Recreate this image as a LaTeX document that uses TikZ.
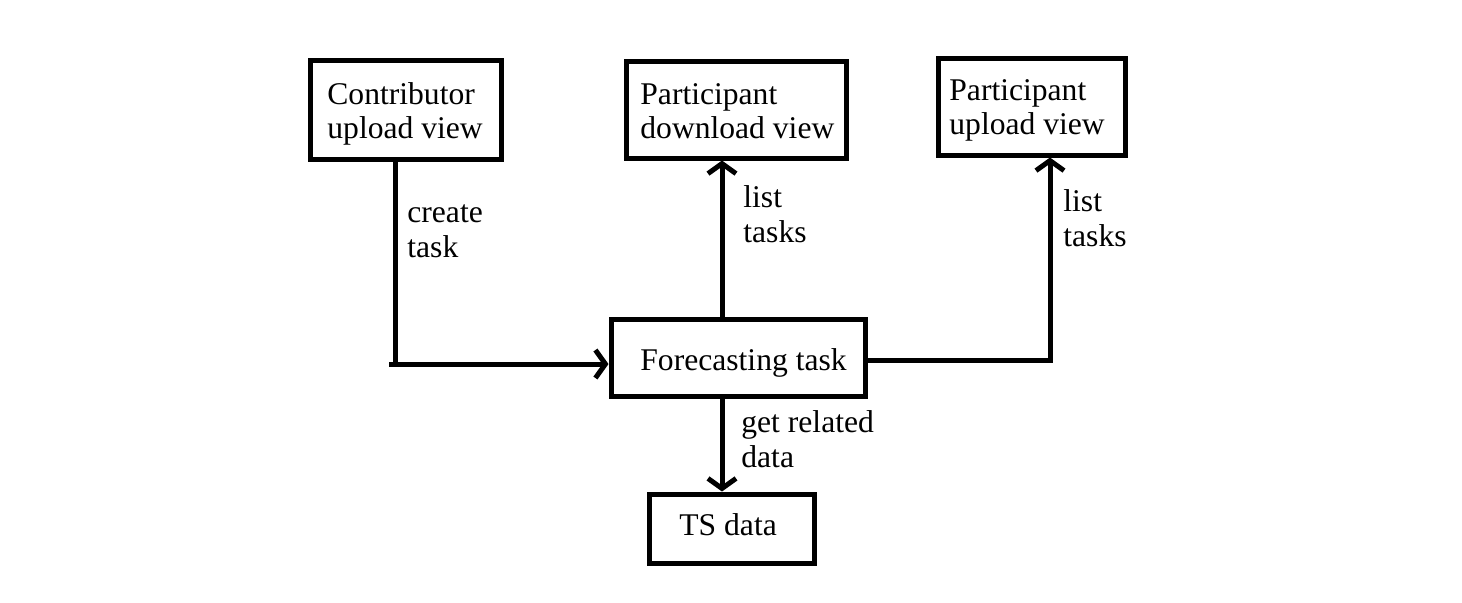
\documentclass[tikz,border=0pt]{standalone}
\usepackage{fontspec}
\setmainfont{Liberation Serif}
\usetikzlibrary{arrows.meta}
\begin{document}
\begin{tikzpicture}[x=0.5pt,y=-0.5pt,
  box/.style={draw,line width=2.5pt,inner sep=0pt},
  txt/.style={anchor=base west,inner sep=0pt,font=\fontsize{15.8}{17.5}\selectfont},
  conn/.style={line width=2.5pt},
  arr/.style={conn,-{Straight Barb[length=5pt,width=14pt,line width=2.5pt]}}]
\useasboundingbox (0,0) rectangle (1462,602);
% boxes
\node[box,minimum width=95.5pt,minimum height=49.5pt] (contrib) at (405.5,109.5) {};
\node[box,minimum width=110pt,minimum height=48.5pt] (pdown) at (736,109.5) {};
\node[box,minimum width=93.5pt,minimum height=48.5pt] (pup) at (1031.5,106.5) {};
\node[box,minimum width=127pt,minimum height=38.5pt] (fc) at (738,357.5) {};
\node[box,minimum width=82.5pt,minimum height=34.5pt] (ts) at (731.5,528.5) {};
% box texts
\node[txt] (t1a) at (327,104) {Contributor};
\node[txt] (t1b) at (327,138) {upload view};
\node[txt] (t2a) at (640,104) {Participant};
\node[txt] (t2b) at (640,138) {download view};
\node[txt] (t3a) at (949,100) {Participant};
\node[txt] (t3b) at (949,134) {upload view};
\node[txt] (t4) at (640,370) {Forecasting task};
\node[txt] (t5) at (679,535) {TS data};
% connector labels
\node[txt] (l1a) at (407,222) {create};
\node[txt] (l1b) at (407,257) {task};
\node[txt] (l2a) at (743,207) {list};
\node[txt] (l2b) at (743,242) {tasks};
\node[txt] (l3a) at (1063,211) {list};
\node[txt] (l3b) at (1063,246) {tasks};
\node[txt] (l4a) at (741,432) {get related};
\node[txt] (l4b) at (741,467) {data};
% connectors
\coordinate (c0) at (389,364);
\coordinate (c1) at (395,364);
\coordinate (c2) at (1050,360);
\coordinate (xm) at (722,0);
\draw[conn] (contrib.south -| c1) -- (c1);
\draw[arr] (c0) -- (fc.west |- c0);
\draw[arr] (fc.north -| xm) -- (pdown.south -| xm);
\draw[arr] (fc.east |- c2) -- (c2) -- (pup.south -| c2);
\draw[arr] (fc.south -| xm) -- (ts.north -| xm);
\end{tikzpicture}
\end{document}
